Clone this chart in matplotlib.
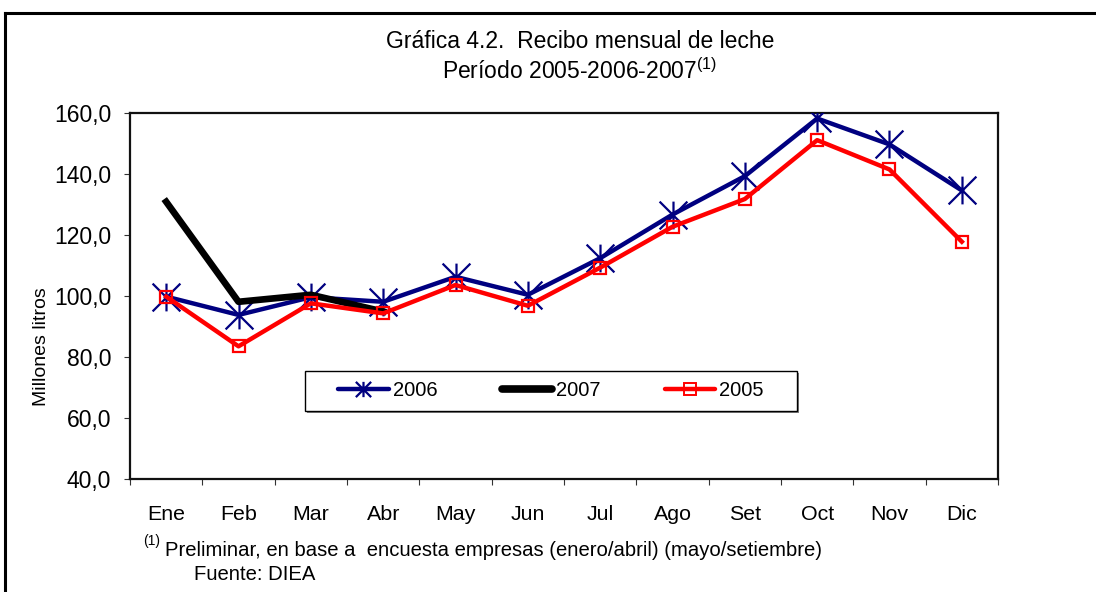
import numpy as np
import matplotlib
matplotlib.use('Agg')
import matplotlib.pyplot as plt
from matplotlib.path import Path
from matplotlib.lines import Line2D
from matplotlib.patches import Rectangle

plt.rcParams['font.family'] = ['Liberation Sans', 'DejaVu Sans']
plt.rcParams['mathtext.default'] = 'regular'

meses = ['Ene', 'Feb', 'Mar', 'Abr', 'May', 'Jun', 'Jul', 'Ago', 'Set', 'Oct', 'Nov', 'Dic']
v2006 = [99.8, 93.8, 99.6, 98.1, 106.3, 100.4, 112.4, 126.7, 139.3, 158.2, 149.7, 134.6]
v2007 = [130.9, 98.1, 100.4, 94.9]
v2005 = [99.8, 83.5, 97.6, 94.3, 103.6, 96.8, 109.3, 122.7, 131.8, 151.1, 141.5, 117.8]
yticks = [40, 60, 80, 100, 120, 140, 160]

# asterisco tipo excel: vertical + X
star = Path([(0, -1), (0, 1), (-1, -1), (1, 1), (-1, 1), (1, -1)],
            [Path.MOVETO, Path.LINETO, Path.MOVETO, Path.LINETO, Path.MOVETO, Path.LINETO])

fig = plt.figure(figsize=(10.96, 5.92), dpi=100)
ax = fig.add_axes([130/1096, 1-479/592, 868/1096, 366/592])

x = np.arange(len(meses))
ax.plot(x, v2006, color='#000080', lw=3.2, marker=star, ms=20, mew=1.6,
        mec='#000080', mfc='none', zorder=3)
ax.plot(x[:len(v2007)], v2007, color='black', lw=4.8, zorder=4)
ax.plot(x, v2005, color='#ff0000', lw=3.2, marker='s', ms=9, mew=1.6,
        mec='#ff0000', mfc='none', zorder=5)

ax.set_xlim(-0.5, 11.5)
ax.set_ylim(40, 160)
ax.set_yticks(yticks)
ax.set_yticklabels(['{:.1f}'.format(v).replace('.', ',') for v in yticks], fontsize=16.5)
ax.set_xticks(np.arange(-0.5, 12, 1))
ax.set_xticklabels([])
ax.set_xticks(x, minor=True)
ax.set_xticklabels(meses, minor=True, fontsize=15.4)
ax.tick_params(axis='x', which='major', direction='out', length=4.5, width=0.8, color='#333333')
ax.tick_params(axis='x', which='minor', length=0, pad=19)
ax.tick_params(axis='y', direction='out', length=4.5, width=0.8, pad=9, color='#333333')
for s in ax.spines.values():
  s.set_linewidth(1.6)
  s.set_color('#111111')

# caja de la leyenda con sombra gris
bx0, by0, bw, bh = 175/868, (479-411)/366, 492/868, 40/366
ax.add_patch(Rectangle((bx0+2/868, by0-2/366), bw, bh, transform=ax.transAxes,
                       facecolor='#808080', edgecolor='none', zorder=6))
ax.add_patch(Rectangle((bx0, by0), bw, bh, transform=ax.transAxes,
                       facecolor='white', edgecolor='black', lw=1.0, zorder=7))

h1 = Line2D([], [], color='#000080', lw=3.2, marker=star, ms=11, mew=1.6, mec='#000080',
            solid_capstyle='round')
h2 = Line2D([], [], color='black', lw=5.5, solid_capstyle='round')
h3 = Line2D([], [], color='#ff0000', lw=3.2, marker='s', ms=9, mew=1.4, mec='#ff0000',
            mfc='none', solid_capstyle='round')
leg = ax.legend([h1, h2, h3], ['2006', '2007', '2005'], ncol=3, loc='center',
                bbox_to_anchor=(bx0+bw/2, by0+bh/2), borderaxespad=0, borderpad=0,
                fontsize=14.5, handlelength=2.5, handletextpad=0.2,
                frameon=False, columnspacing=3.2)
leg.set_zorder(8)

fig.text(42/1096, 1-347/592, 'Millones litros', rotation=90, ha='center', va='center', fontsize=14)
fig.text(580/1096, 1-41/592, 'Gráfica 4.2.  Recibo mensual de leche', ha='center', va='center',
         fontsize=16.5)
fig.text(580/1096, 1-71/592, 'Período 2005-2006-2007$^{(1)}$', ha='center', va='center',
         fontsize=16.5)
fig.text(143/1096, 1-541/592, '(1)', ha='left', va='center', fontsize=10)
fig.text(165/1096, 1-550/592, 'Preliminar, en base a  encuesta empresas (enero/abril) (mayo/setiembre)',
         ha='left', va='center', fontsize=14.6)
fig.text(194/1096, 1-575/592, 'Fuente: DIEA', ha='left', va='center', fontsize=14.6)

# marco exterior
fig.add_artist(Line2D([5/1096, 1.0], [1-13/592, 1-13/592], color='black', lw=2.2,
                      transform=fig.transFigure))
fig.add_artist(Line2D([5/1096, 5/1096], [1-13/592, 0.0], color='black', lw=2.2,
                      transform=fig.transFigure))

fig.savefig('out.png', dpi=100)
